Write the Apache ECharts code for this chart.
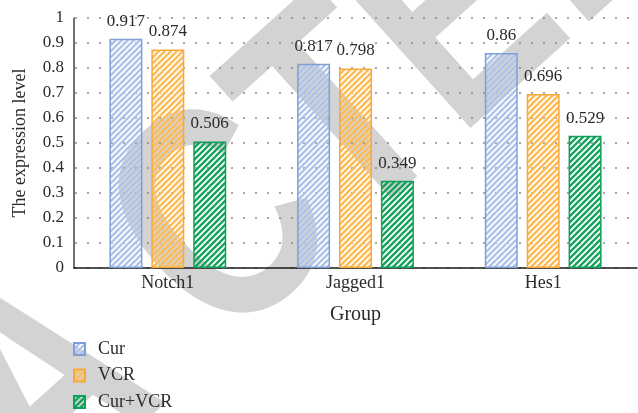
<!DOCTYPE html>
<html>
<head>
<meta charset="utf-8">
<script src="https://cdn.jsdelivr.net/npm/echarts@6/dist/echarts.min.js"></script>
<style>
  html, body { margin: 0; padding: 0; background: #fff; }
  #chart { width: 638px; height: 413px; }
</style>
</head>
<body>
<div id="chart"></div>
<script>
// Expression level per gene group and treatment
const categories = ['Notch1', 'Jagged1', 'Hes1'];
const seriesNames = ['Cur', 'VCR', 'Cur+VCR'];
const curValues = [0.917, 0.817, 0.86];
const vcrValues = [0.874, 0.798, 0.696];
const comboValues = [0.506, 0.349, 0.529];
const yTickLabels = ['0', '0.1', '0.2', '0.3', '0.4', '0.5', '0.6', '0.7', '0.8', '0.9', '1'];

const SERIF = '"Liberation Serif", "Times New Roman", serif';
const TEXT = '#2b2b2b';

// Diagonal hatch tile: coloured "/" stripes on a transparent ground
function hatch(stripe) {
  const s = 6;
  const c = document.createElement('canvas');
  c.width = s; c.height = s;
  const g = c.getContext('2d');
  g.strokeStyle = stripe;
  g.lineWidth = 2.4;
  g.beginPath();
  g.moveTo(-s, s); g.lineTo(s, -s);
  g.moveTo(0, 2 * s); g.lineTo(2 * s, 0);
  g.moveTo(-s, 2 * s); g.lineTo(2 * s, -s);
  g.stroke();
  return { image: c, repeat: 'repeat' };
}

const palette = [
  { stripe: '#afc4ea', border: '#7f9fd8' },
  { stripe: '#ffbb55', border: '#fba83a' },
  { stripe: '#16a35f', border: '#10a058' }
];
const valueSets = [curValues, vcrValues, comboValues];

// Diagonal "RETRACTED" stamp behind the plot, set in two runs with a wide gap
const stampAngle = 42 * Math.PI / 180;
const stampStyle = {
  font: 'bold 310px "Liberation Sans", Arial, sans-serif',
  fill: '#d3d3d3',
  verticalAlign: 'middle'
};
function stampPart(text, align, x, y) {
  return {
    type: 'text', z: -10, silent: true,
    x, y, rotation: stampAngle, scaleX: 0.77,
    style: Object.assign({ text, align }, stampStyle)
  };
}

const chart = echarts.init(document.getElementById('chart'), null, { renderer: 'canvas' });

chart.setOption({
  animation: false,
  backgroundColor: '#ffffff',
  textStyle: { fontFamily: SERIF },
  graphic: [
    stampPart('RETRA', 'right', 113, 335),
    stampPart('CTED', 'left', 165, 288)
  ],
  grid: { left: 74, right: 1, top: 18, bottom: 145, containLabel: false, outerBoundsMode: 'none' },
  legend: {
    orient: 'vertical',
    left: 73,
    top: 340,
    padding: 0,
    itemWidth: 11,
    itemHeight: 12,
    itemGap: 8.5,
    icon: 'rect',
    data: seriesNames,
    textStyle: { fontFamily: SERIF, fontSize: 18, lineHeight: 18, color: TEXT, padding: [0, 0, 0, 8] }
  },
  xAxis: {
    type: 'category',
    data: categories,
    name: 'Group',
    nameLocation: 'middle',
    nameGap: 37,
    nameTextStyle: { fontFamily: SERIF, fontSize: 20, color: TEXT },
    axisLine: { lineStyle: { color: '#1a1a1a', width: 1.5 } },
    axisTick: { show: false },
    axisLabel: { fontFamily: SERIF, fontSize: 18, color: TEXT, margin: 6 }
  },
  yAxis: {
    type: 'value',
    min: 0,
    max: 1,
    interval: 0.1,
    name: 'The expression level',
    nameLocation: 'middle',
    nameRotate: 90,
    nameGap: 45,
    nameTextStyle: { fontFamily: SERIF, fontSize: 18, color: TEXT },
    axisLine: { show: true, lineStyle: { color: '#444', width: 1.5 } },
    axisTick: { show: false },
    axisLabel: {
      fontFamily: SERIF, fontSize: 17, color: TEXT, margin: 10,
      formatter: v => yTickLabels[Math.round(v * 10)]
    },
    splitLine: { show: true, lineStyle: { color: '#8a8a8a', width: 1.6, type: [2, 10], dashOffset: -1 } }
  },
  series: seriesNames.map((name, i) => ({
    name,
    type: 'bar',
    data: valueSets[i],
    barWidth: 33,
    barGap: '27%',
    itemStyle: {
      color: hatch(palette[i].stripe),
      borderColor: palette[i].border,
      borderWidth: 1.5
    },
    label: {
      show: true,
      position: 'top',
      distance: 9,
      fontFamily: SERIF,
      fontSize: 17,
      color: TEXT,
      formatter: p => String(p.value)
    }
  }))
});
</script>
</body>
</html>
